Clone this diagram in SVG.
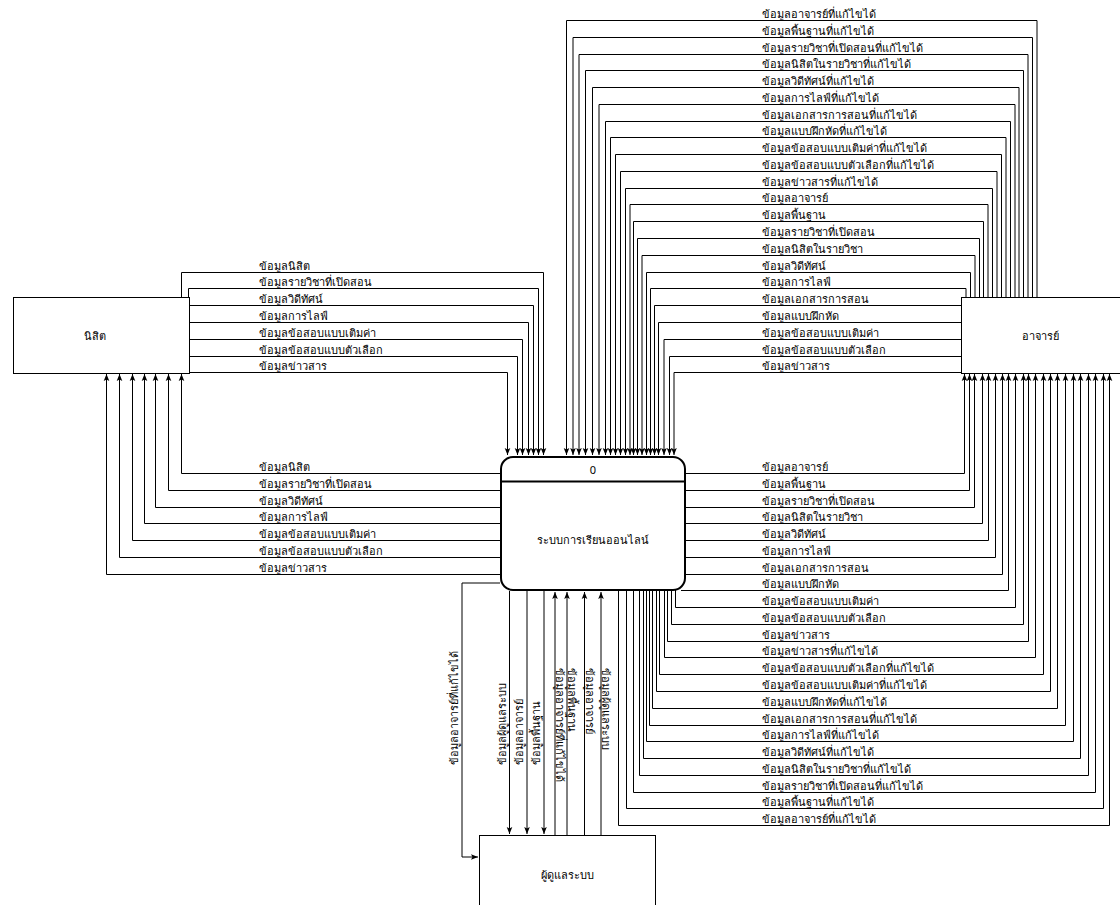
<svg xmlns="http://www.w3.org/2000/svg" width="1120" height="905" viewBox="0 0 1120 905">
<defs>
<marker id="ah" viewBox="0 0 7 8" refX="7" refY="4" markerWidth="7" markerHeight="8" markerUnits="userSpaceOnUse" orient="auto">
<path d="M0,1.2 L7,4 L0,6.8 L1.5,4 z" fill="#000"/>
</marker>
<style>
.t{font-family:"Noto Sans","DejaVu Sans","Liberation Sans",sans-serif;font-size:11px;fill:#000}
.n{font-family:"Noto Sans","DejaVu Sans","Liberation Sans",sans-serif;font-size:11px;fill:#000;text-anchor:middle}
.box{fill:#fff;stroke:#000;stroke-width:1}
.c path{fill:none;stroke:#000;stroke-width:1;marker-end:url(#ah)}
</style>
</defs>
<rect width="1120" height="905" fill="#fff"/>
<g id="connectors" class="c">
<path d="M1037,297 V20.5 H566.5 V455"/>
<path d="M1032.5,297 V37.5 H573 V455"/>
<path d="M1028,297 V54.5 H579 V455"/>
<path d="M1023.5,297 V70.5 H585.5 V455"/>
<path d="M1019,297 V87.5 H592.5 V455"/>
<path d="M1015,297 V104.5 H599 V455"/>
<path d="M1010.5,297 V121.5 H605.5 V455"/>
<path d="M1006,297 V137.5 H610.5 V455"/>
<path d="M1001.5,297 V154.5 H615.5 V455"/>
<path d="M997,297 V171.5 H620.5 V455"/>
<path d="M992.5,297 V188.5 H625.5 V455"/>
<path d="M988,297 V204.5 H630 V455"/>
<path d="M983.5,297 V221.5 H633.5 V455"/>
<path d="M979.5,297 V238.5 H637.5 V455"/>
<path d="M975,297 V255.5 H642 V455"/>
<path d="M970.5,297 V272.5 H646.5 V455"/>
<path d="M966,297 V288.5 H650.5 V455"/>
<path d="M961,305.5 H654.5 V455"/>
<path d="M961,322.5 H658.5 V455"/>
<path d="M961,339.5 H664 V455"/>
<path d="M961,356.5 H669.5 V455"/>
<path d="M961,372.5 H674 V455"/>
<path d="M685,473.5 H964.5 V374"/>
<path d="M685,490.5 H969.5 V374"/>
<path d="M685,507.5 H974.5 V374"/>
<path d="M685,523.5 H982.5 V374"/>
<path d="M685,540.5 H988.5 V374"/>
<path d="M685,557.5 H995.5 V374"/>
<path d="M685,574.5 H1002.5 V374"/>
<path d="M681,590.5 H1008.5 V374"/>
<path d="M675.5,590 V607.5 H1015.5 V374"/>
<path d="M671.5,590 V624.5 H1023.5 V374"/>
<path d="M667.5,590 V641.5 H1028.5 V374"/>
<path d="M664.5,590 V657.5 H1035.5 V374"/>
<path d="M659.5,590 V674.5 H1043.5 V374"/>
<path d="M656.5,590 V691.5 H1050.5 V374"/>
<path d="M652.5,590 V708.5 H1057.5 V374"/>
<path d="M649.5,590 V725.5 H1065.5 V374"/>
<path d="M646.5,590 V741.5 H1073.5 V374"/>
<path d="M643.5,590 V758.5 H1080.5 V374"/>
<path d="M639.5,590 V775.5 H1088.5 V374"/>
<path d="M633.5,590 V792.5 H1095.5 V374"/>
<path d="M626.5,590 V808.5 H1103.5 V374"/>
<path d="M618.5,590 V825.5 H1109.5 V374"/>
<path d="M181.5,297 V272.5 H543.5 V455"/>
<path d="M188.5,297 V288.5 H538.5 V455"/>
<path d="M189,305.5 H533.5 V455"/>
<path d="M189,322.5 H528.5 V455"/>
<path d="M189,339.5 H522.5 V455"/>
<path d="M189,356.5 H517.5 V455"/>
<path d="M189,372.5 H507.5 V455"/>
<path d="M500,473.5 H181.5 V374"/>
<path d="M500,490.5 H168.5 V374"/>
<path d="M500,507.5 H155.5 V374"/>
<path d="M500,523.5 H144.5 V374"/>
<path d="M500,540.5 H132.5 V374"/>
<path d="M500,557.5 H119.5 V374"/>
<path d="M500,574.5 H106.5 V374"/>
<path d="M509.5,591 V834"/>
<path d="M527,591 V834"/>
<path d="M544,591 V834"/>
<path d="M555,835 V592"/>
<path d="M567,835 V592"/>
<path d="M584.5,835 V592"/>
<path d="M601,835 V592"/>
<path d="M500,583 H462 V857 H478"/>
</g>
<g id="labels">
<text class="t" x="762" y="17.5">ข้อมูลอาจารย์ที่แก้ไขได้</text>
<text class="t" x="762" y="34.5">ข้อมูลพื้นฐานที่แก้ไขได้</text>
<text class="t" x="762" y="51.5">ข้อมูลรายวิชาที่เปิดสอนที่แก้ไขได้</text>
<text class="t" x="762" y="67.5">ข้อมูลนิสิตในรายวิชาที่แก้ไขได้</text>
<text class="t" x="762" y="84.5">ข้อมูลวิดีทัศน์ที่แก้ไขได้</text>
<text class="t" x="762" y="101.5">ข้อมูลการไลฟ์ที่แก้ไขได้</text>
<text class="t" x="762" y="118.5">ข้อมูลเอกสารการสอนที่แก้ไขได้</text>
<text class="t" x="762" y="134.5">ข้อมูลแบบฝึกหัดที่แก้ไขได้</text>
<text class="t" x="762" y="151.5">ข้อมูลข้อสอบแบบเติมค่าที่แก้ไขได้</text>
<text class="t" x="762" y="168.5">ข้อมูลข้อสอบแบบตัวเลือกที่แก้ไขได้</text>
<text class="t" x="762" y="185.5">ข้อมูลข่าวสารที่แก้ไขได้</text>
<text class="t" x="762" y="201.5">ข้อมูลอาจารย์</text>
<text class="t" x="762" y="218.5">ข้อมูลพื้นฐาน</text>
<text class="t" x="762" y="235.5">ข้อมูลรายวิชาที่เปิดสอน</text>
<text class="t" x="762" y="252.5">ข้อมูลนิสิตในรายวิชา</text>
<text class="t" x="762" y="269.5">ข้อมูลวิดีทัศน์</text>
<text class="t" x="762" y="285.5">ข้อมูลการไลฟ์</text>
<text class="t" x="762" y="302.5">ข้อมูลเอกสารการสอน</text>
<text class="t" x="762" y="319.5">ข้อมูลแบบฝึกหัด</text>
<text class="t" x="762" y="336.5">ข้อมูลข้อสอบแบบเติมค่า</text>
<text class="t" x="762" y="353.5">ข้อมูลข้อสอบแบบตัวเลือก</text>
<text class="t" x="762" y="369.5">ข้อมูลข่าวสาร</text>
<text class="t" x="762" y="470.5">ข้อมูลอาจารย์</text>
<text class="t" x="762" y="487.5">ข้อมูลพื้นฐาน</text>
<text class="t" x="762" y="504.5">ข้อมูลรายวิชาที่เปิดสอน</text>
<text class="t" x="762" y="520.5">ข้อมูลนิสิตในรายวิชา</text>
<text class="t" x="762" y="537.5">ข้อมูลวิดีทัศน์</text>
<text class="t" x="762" y="554.5">ข้อมูลการไลฟ์</text>
<text class="t" x="762" y="571.5">ข้อมูลเอกสารการสอน</text>
<text class="t" x="762" y="587.5">ข้อมูลแบบฝึกหัด</text>
<text class="t" x="762" y="604.5">ข้อมูลข้อสอบแบบเติมค่า</text>
<text class="t" x="762" y="621.5">ข้อมูลข้อสอบแบบตัวเลือก</text>
<text class="t" x="762" y="638.5">ข้อมูลข่าวสาร</text>
<text class="t" x="762" y="654.5">ข้อมูลข่าวสารที่แก้ไขได้</text>
<text class="t" x="762" y="671.5">ข้อมูลข้อสอบแบบตัวเลือกที่แก้ไขได้</text>
<text class="t" x="762" y="688.5">ข้อมูลข้อสอบแบบเติมค่าที่แก้ไขได้</text>
<text class="t" x="762" y="705.5">ข้อมูลแบบฝึกหัดที่แก้ไขได้</text>
<text class="t" x="762" y="722.5">ข้อมูลเอกสารการสอนที่แก้ไขได้</text>
<text class="t" x="762" y="738.5">ข้อมูลการไลฟ์ที่แก้ไขได้</text>
<text class="t" x="762" y="755.5">ข้อมูลวิดีทัศน์ที่แก้ไขได้</text>
<text class="t" x="762" y="772.5">ข้อมูลนิสิตในรายวิชาที่แก้ไขได้</text>
<text class="t" x="762" y="789.5">ข้อมูลรายวิชาที่เปิดสอนที่แก้ไขได้</text>
<text class="t" x="762" y="805.5">ข้อมูลพื้นฐานที่แก้ไขได้</text>
<text class="t" x="762" y="822.5">ข้อมูลอาจารย์ที่แก้ไขได้</text>
<text class="t" x="259" y="269.5">ข้อมูลนิสิต</text>
<text class="t" x="259" y="285.5">ข้อมูลรายวิชาที่เปิดสอน</text>
<text class="t" x="259" y="302.5">ข้อมูลวิดีทัศน์</text>
<text class="t" x="259" y="319.5">ข้อมูลการไลฟ์</text>
<text class="t" x="259" y="336.5">ข้อมูลข้อสอบแบบเติมค่า</text>
<text class="t" x="259" y="353.5">ข้อมูลข้อสอบแบบตัวเลือก</text>
<text class="t" x="259" y="369.5">ข้อมูลข่าวสาร</text>
<text class="t" x="259" y="470.5">ข้อมูลนิสิต</text>
<text class="t" x="259" y="487.5">ข้อมูลรายวิชาที่เปิดสอน</text>
<text class="t" x="259" y="504.5">ข้อมูลวิดีทัศน์</text>
<text class="t" x="259" y="520.5">ข้อมูลการไลฟ์</text>
<text class="t" x="259" y="537.5">ข้อมูลข้อสอบแบบเติมค่า</text>
<text class="t" x="259" y="554.5">ข้อมูลข้อสอบแบบตัวเลือก</text>
<text class="t" x="259" y="571.5">ข้อมูลข่าวสาร</text>
<text class="t" transform="translate(505.5,765) rotate(-90)">ข้อมูลผู้ดูแลระบบ</text>
<text class="t" transform="translate(523,765) rotate(-90)">ข้อมูลอาจารย์</text>
<text class="t" transform="translate(540,765) rotate(-90)">ข้อมูลพื้นฐาน</text>
<text class="t" transform="translate(556,668) rotate(90)">ข้อมูลอาจารย์ที่แก้ไขได้</text>
<text class="t" transform="translate(568,668) rotate(90)">ข้อมูลพื้นฐาน</text>
<text class="t" transform="translate(585.5,668) rotate(90)">ข้อมูลอาจารย์</text>
<text class="t" transform="translate(602,668) rotate(90)">ข้อมูลผู้ดูแลระบบ</text>
<text class="t" transform="translate(458,765) rotate(-90)">ข้อมูลอาจารย์ที่แก้ไขได้</text>
</g>
<g id="node-nisit">
<rect class="box" x="13.5" y="297.5" width="176" height="76"/>
<text class="n" x="95" y="340">นิสิต</text>
</g>
<g id="node-ajarn">
<rect class="box" x="961.5" y="297.5" width="176" height="76"/>
<text class="n" x="1040" y="340">อาจารย์</text>
</g>
<g id="node-admin">
<rect class="box" x="479.5" y="835.5" width="176" height="76"/>
<text class="n" x="567" y="879">ผู้ดูแลระบบ</text>
</g>
<g id="node-process">
<rect x="501" y="457" width="184" height="133" rx="12" fill="#fff" stroke="#000" stroke-width="2"/>
<line x1="501" y1="481.5" x2="685" y2="481.5" stroke="#000" stroke-width="2"/>
<text class="n" x="593" y="474">0</text>
<text class="n" x="593" y="544">ระบบการเรียนออนไลน์</text>
</g>
</svg>
